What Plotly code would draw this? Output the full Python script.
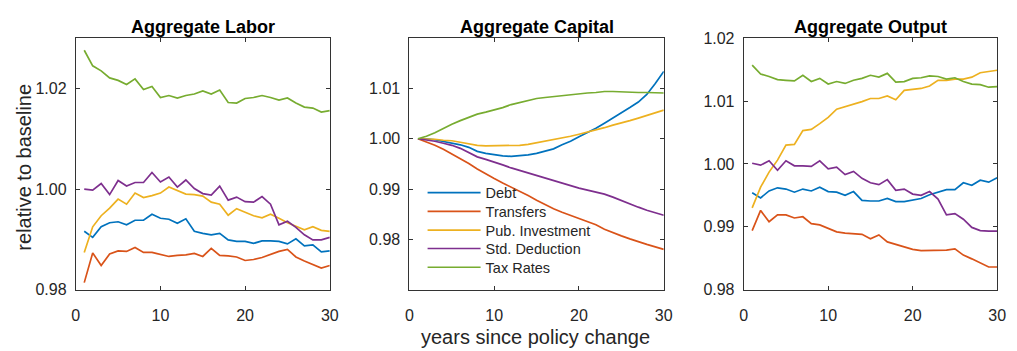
import plotly.graph_objects as go

years = list(range(1, 31))

# Aggregate Labor (relative to baseline)
labor_debt = [0.9916, 0.9904, 0.9925, 0.9933, 0.9935, 0.9929, 0.9938, 0.9938, 0.9950, 0.9942,
              0.9940, 0.9932, 0.9941, 0.9916, 0.9912, 0.9909, 0.9912, 0.9899, 0.9896, 0.9896,
              0.9892, 0.9897, 0.9897, 0.9896, 0.9891, 0.9901, 0.9887, 0.9889, 0.9875, 0.9877]
labor_transfers = [0.9814, 0.9873, 0.9848, 0.9871, 0.9877, 0.9876, 0.9884, 0.9874, 0.9874, 0.9870,
                   0.9866, 0.9868, 0.9869, 0.9872, 0.9866, 0.9882, 0.9868, 0.9867, 0.9865, 0.9858,
                   0.9860, 0.9864, 0.9870, 0.9876, 0.9880, 0.9865, 0.9857, 0.9850, 0.9843, 0.9848]
labor_pubinv = [0.9874, 0.9925, 0.9947, 0.9962, 0.9980, 0.9970, 0.9992, 0.9983, 0.9987, 0.9992,
                1.0004, 0.9997, 0.9990, 0.9989, 0.9986, 0.9974, 0.9970, 0.9948, 0.9961, 0.9954,
                0.9947, 0.9943, 0.9950, 0.9942, 0.9933, 0.9926, 0.9919, 0.9925, 0.9918, 0.9916]
labor_stded = [1.0000, 0.9998, 1.0011, 0.9989, 1.0017, 1.0006, 1.0013, 1.0013, 1.0033, 1.0014,
               1.0024, 1.0004, 1.0018, 1.0001, 0.9991, 0.9988, 1.0006, 0.9978, 0.9984, 0.9975,
               0.9974, 0.9985, 0.9970, 0.9929, 0.9936, 0.9924, 0.9909, 0.9899, 0.9899, 0.9904]
labor_taxrates = [1.0276, 1.0245, 1.0235, 1.0221, 1.0216, 1.0208, 1.0219, 1.0198, 1.0204, 1.0182,
                  1.0186, 1.0181, 1.0186, 1.0189, 1.0195, 1.0189, 1.0197, 1.0172, 1.0171, 1.0180,
                  1.0182, 1.0186, 1.0182, 1.0177, 1.0181, 1.0171, 1.0163, 1.0161, 1.0153, 1.0156]

# Aggregate Capital (relative to baseline)
capital_debt = [1.0000, 1.0000, 0.9998, 0.9995, 0.9992, 0.9988, 0.9983, 0.9975, 0.9971, 0.9968,
                0.9966, 0.9965, 0.9966, 0.9968, 0.9971, 0.9975, 0.9980, 0.9988, 0.9995, 1.0004,
                1.0012, 1.0021, 1.0031, 1.0041, 1.0051, 1.0062, 1.0073, 1.0088, 1.0110, 1.0134]
capital_transfers = [1.0000, 0.9994, 0.9987, 0.9979, 0.9970, 0.9961, 0.9951, 0.9940, 0.9930, 0.9921,
                     0.9912, 0.9904, 0.9895, 0.9887, 0.9878, 0.9869, 0.9861, 0.9854, 0.9848, 0.9842,
                     0.9835, 0.9829, 0.9820, 0.9813, 0.9807, 0.9801, 0.9795, 0.9790, 0.9785, 0.9780]
capital_pubinv = [1.0000, 1.0000, 0.9999, 0.9997, 0.9996, 0.9993, 0.9990, 0.9987, 0.9986, 0.9986,
                  0.9986, 0.9986, 0.9987, 0.9989, 0.9992, 0.9995, 0.9998, 1.0002, 1.0005, 1.0009,
                  1.0013, 1.0017, 1.0022, 1.0027, 1.0031, 1.0036, 1.0041, 1.0046, 1.0051, 1.0057]
capital_stded = [1.0000, 0.9998, 0.9995, 0.9991, 0.9987, 0.9981, 0.9973, 0.9964, 0.9959, 0.9954,
                 0.9948, 0.9942, 0.9937, 0.9932, 0.9927, 0.9922, 0.9916, 0.9912, 0.9907, 0.9902,
                 0.9898, 0.9894, 0.9890, 0.9884, 0.9877, 0.9871, 0.9864, 0.9858, 0.9853, 0.9848]
capital_taxrates = [1.0000, 1.0005, 1.0012, 1.0021, 1.0029, 1.0036, 1.0043, 1.0049, 1.0053, 1.0057,
                    1.0062, 1.0068, 1.0072, 1.0076, 1.0080, 1.0082, 1.0084, 1.0086, 1.0088, 1.0089,
                    1.0091, 1.0092, 1.0094, 1.0094, 1.0093, 1.0092, 1.0092, 1.0092, 1.0091, 1.0091]

# Aggregate Output (relative to baseline)
output_debt = [0.9954, 0.9946, 0.9957, 0.9962, 0.9960, 0.9955, 0.9960, 0.9957, 0.9963, 0.9956,
               0.9955, 0.9950, 0.9956, 0.9942, 0.9941, 0.9941, 0.9945, 0.9940, 0.9940, 0.9943,
               0.9945, 0.9951, 0.9955, 0.9959, 0.9959, 0.9970, 0.9966, 0.9974, 0.9971, 0.9978]
output_transfers = [0.9894, 0.9926, 0.9908, 0.9919, 0.9919, 0.9914, 0.9916, 0.9905, 0.9903, 0.9897,
                    0.9892, 0.9890, 0.9889, 0.9888, 0.9881, 0.9887, 0.9876, 0.9872, 0.9869, 0.9864,
                    0.9862, 0.9862, 0.9862, 0.9863, 0.9865, 0.9855, 0.9849, 0.9843, 0.9836, 0.9836]
output_pubinv = [0.9930, 0.9963, 0.9987, 1.0006, 1.0030, 1.0031, 1.0053, 1.0055, 1.0064, 1.0074,
                 1.0087, 1.0091, 1.0094, 1.0099, 1.0104, 1.0104, 1.0108, 1.0102, 1.0117, 1.0119,
                 1.0120, 1.0124, 1.0133, 1.0133, 1.0135, 1.0135, 1.0138, 1.0145, 1.0147, 1.0149]
output_stded = [1.0001, 0.9998, 1.0005, 0.9990, 1.0005, 0.9997, 0.9997, 0.9996, 1.0005, 0.9992,
                0.9995, 0.9983, 0.9988, 0.9977, 0.9970, 0.9967, 0.9975, 0.9958, 0.9960, 0.9952,
                0.9950, 0.9956, 0.9944, 0.9919, 0.9921, 0.9912, 0.9899, 0.9894, 0.9893, 0.9893]
output_taxrates = [1.0157, 1.0143, 1.0139, 1.0134, 1.0133, 1.0132, 1.0141, 1.0131, 1.0136, 1.0127,
                   1.0131, 1.0128, 1.0133, 1.0136, 1.0141, 1.0138, 1.0144, 1.0130, 1.0131, 1.0136,
                   1.0137, 1.0140, 1.0139, 1.0135, 1.0137, 1.0131, 1.0127, 1.0126, 1.0122, 1.0123]

series_names = ["Debt", "Transfers", "Pub. Investment", "Std. Deduction", "Tax Rates"]
series_colors = ["#0072BD", "#D95319", "#EDB120", "#7E2F8E", "#77AC30"]

panel_titles = ["Aggregate Labor", "Aggregate Capital", "Aggregate Output"]
panel_data = [
    [labor_debt, labor_transfers, labor_pubinv, labor_stded, labor_taxrates],
    [capital_debt, capital_transfers, capital_pubinv, capital_stded, capital_taxrates],
    [output_debt, output_transfers, output_pubinv, output_stded, output_taxrates],
]
y_ranges = [[0.98, 1.03], [0.97, 1.02], [0.98, 1.02]]
y_ticks = [[0.98, 1.00, 1.02], [0.98, 0.99, 1.00, 1.01], [0.98, 0.99, 1.00, 1.01, 1.02]]
x_ticks = [0, 10, 20, 30]

W, H = 1017, 351
FONT = "Liberation Sans, Arial, Helvetica, sans-serif"
TEXT = "#262626"
AXIS = "#333333"

x_domains = [[72.7 / W, 330.0 / W], [410.7 / W, 668.3 / W], [749.3 / W, 1006.0 / W]]
y_domain = [(H - 296.0) / H, (H - 31.7) / H]

# legend rows (pixel centres) inside the capital panel, one legend box per series
legend_row_px = [192.3, 212.0, 231.7, 251.0, 270.7]
legend_keys = ["legend", "legend2", "legend3", "legend4", "legend5"]

fig = go.Figure()

for p in range(3):
    xa = "x" if p == 0 else f"x{p + 1}"
    ya = "y" if p == 0 else f"y{p + 1}"
    for s in range(5):
        fig.add_trace(go.Scatter(
            x=years, y=panel_data[p][s], mode="lines",
            name=series_names[s],
            line=dict(color=series_colors[s], width=1.7),
            xaxis=xa, yaxis=ya,
            showlegend=(p == 1),
            legend=legend_keys[s],
        ))

    axis_common = dict(
        showline=True, mirror="ticks", linecolor=AXIS, linewidth=1,
        ticks="inside", ticklen=4, tickcolor=AXIS, tickwidth=1,
        showgrid=False, zeroline=False,
        tickfont=dict(family=FONT, size=16, color=TEXT),
    )
    fig.layout[("xaxis" if p == 0 else f"xaxis{p + 1}")] = dict(
        axis_common, domain=x_domains[p], range=[0, 30], tickvals=x_ticks,
        anchor=ya, ticklabelstandoff=11,
    )
    fig.layout[("yaxis" if p == 0 else f"yaxis{p + 1}")] = dict(
        axis_common, domain=y_domain, range=y_ranges[p], tickvals=y_ticks[p],
        tickformat=".2f", anchor=xa, ticklabelstandoff=5,
    )
    fig.add_annotation(
        text=f"<b>{panel_titles[p]}</b>", showarrow=False,
        xref="paper", yref="paper",
        x=(x_domains[p][0] + x_domains[p][1]) / 2, y=(H - 19.5) / H,
        xanchor="center", yanchor="middle",
        font=dict(family=FONT, size=18, color="#000000"),
    )

fig.add_annotation(
    text="relative to baseline", showarrow=False, textangle=-90,
    xref="paper", yref="paper", x=20.0 / W, y=(H - 167.0) / H,
    xanchor="center", yanchor="middle",
    font=dict(family=FONT, size=20, color=TEXT),
)
fig.add_annotation(
    text="years since policy change", showarrow=False,
    xref="paper", yref="paper", x=538.0 / W, y=(H - 340.0) / H,
    xanchor="center", yanchor="middle", yshift=-5,
    font=dict(family=FONT, size=20, color=TEXT),
)

legend_layout = {}
for key, row in zip(legend_keys, legend_row_px):
    legend_layout[key] = dict(
        x=424.0 / W, y=(H - (row - 15.0)) / H, xanchor="left", yanchor="top",
        bgcolor="rgba(255,255,255,0)", borderwidth=0,
        font=dict(family=FONT, size=14.5, color=TEXT),
        itemwidth=53,
    )

fig.update_layout(
    width=W, height=H,
    margin=dict(l=0, r=0, t=0, b=0),
    paper_bgcolor="white", plot_bgcolor="white",
    showlegend=True,
    **legend_layout,
)

fig.write_html("out.html")
